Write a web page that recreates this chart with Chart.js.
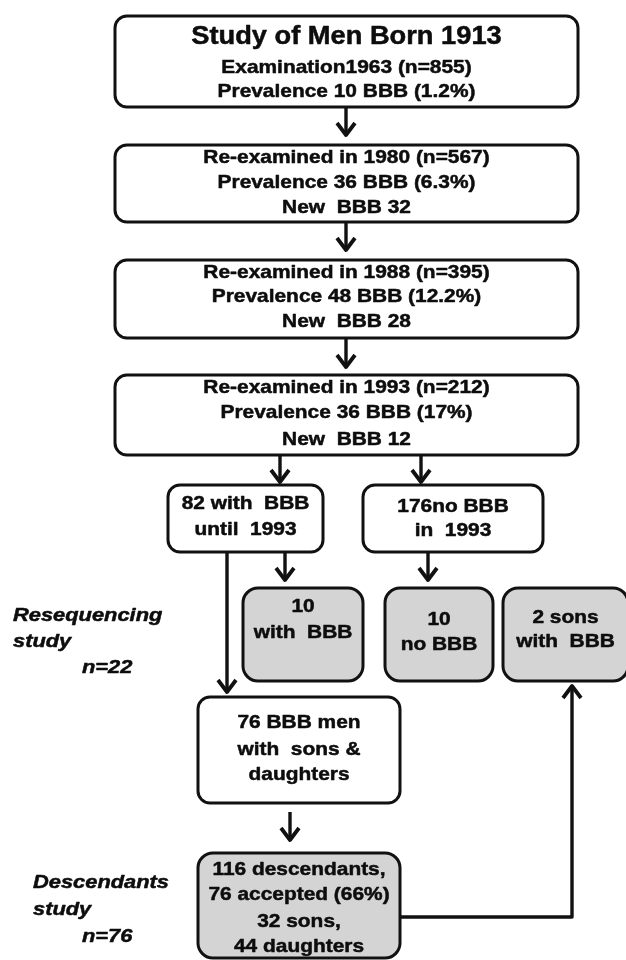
<!DOCTYPE html>
<html>
<head>
<meta charset="utf-8">
<script src="https://cdn.jsdelivr.net/npm/chart.js@4.4.0/dist/chart.umd.min.js"></script>
<style>
  html, body { margin: 0; padding: 0; background: #fff; }
  #wrap { width: 626px; height: 960px; }
</style>
</head>
<body>
<div id="wrap"><canvas id="flow" width="626" height="960"></canvas></div>
<script>
// text of each node, top to bottom
const nodeText = [
  ['Study of Men Born 1913', 'Examination1963 (n=855)', 'Prevalence 10 BBB (1.2%)'],
  ['Re-examined in 1980 (n=567)', 'Prevalence 36 BBB (6.3%)', 'New  BBB 32'],
  ['Re-examined in 1988 (n=395)', 'Prevalence 48 BBB (12.2%)', 'New  BBB 28'],
  ['Re-examined in 1993 (n=212)', 'Prevalence 36 BBB (17%)', 'New  BBB 12'],
  ['82 with  BBB', 'until  1993'],
  ['176no BBB', 'in  1993'],
  ['10', 'with  BBB'],
  ['10', 'no BBB'],
  ['2 sons', 'with  BBB'],
  ['76 BBB men', 'with  sons &', 'daughters'],
  ['116 descendants,', '76 accepted (66%)', '32 sons,', '44 daughters'],
];
const sideText = [
  ['Resequencing', 'study', 'n=22'],
  ['Descendants', 'study', 'n=76'],
];

// layout in scale units (x 0..626, y 0..960 top-down)
const boxes = [
  { x0: 115, y0: 16, x1: 578, y1: 107, lines: [37, 68, 92], grey: false },
  { x0: 115, y0: 145, x1: 578, y1: 222, lines: [158, 183, 208], grey: false },
  { x0: 115, y0: 260, x1: 578, y1: 338, lines: [273, 297, 322], grey: false },
  { x0: 115, y0: 375, x1: 578, y1: 455, lines: [388, 413, 440], grey: false },
  { x0: 168, y0: 485, x1: 323, y1: 552, lines: [504, 530], grey: false },
  { x0: 363, y0: 485, x1: 543, y1: 552, lines: [507, 531], grey: false },
  { x0: 243, y0: 588, x1: 363, y1: 681, lines: [607, 633], grey: true },
  { x0: 385, y0: 588, x1: 493, y1: 681, lines: [620, 645], grey: true },
  { x0: 503, y0: 588, x1: 628, y1: 681, lines: [618, 642], grey: true },
  { x0: 198, y0: 697, x1: 400, y1: 803, lines: [723, 750, 775], grey: false },
  { x0: 198, y0: 853, x1: 400, y1: 958, lines: [870, 895, 922, 947], grey: true },
];
const sides = [
  { x: [13, 13, 82], y: [616, 642, 668] },
  { x: [33, 33, 82], y: [883, 910, 937] },
];
// arrows as polylines, last point is the tip
const arrows = [
  [[346, 107], [346, 135]],
  [[346, 222], [346, 250]],
  [[346, 338], [346, 367]],
  [[280, 455], [280, 482]],
  [[421, 455], [421, 482]],
  [[285, 552], [285, 580]],
  [[428, 552], [428, 580]],
  [[227, 552], [227, 692]],
  [[290, 812], [290, 840]],
  [[400, 917], [572, 917], [572, 686]],
];

const FONT = '"Liberation Sans", Arial, sans-serif';

const flowPlugin = {
  id: 'flow',
  afterDatasetsDraw(chart) {
    const { ctx, scales: { x, y } } = chart;
    const px = (v) => x.getPixelForValue(v);
    const py = (v) => y.getPixelForValue(v);

    const text = (str, tx, ty, size, style, align, sx) => {
      ctx.save();
      ctx.font = `${style} ${size}px ${FONT}`;
      ctx.fillStyle = '#0d0d0d';
      ctx.strokeStyle = '#0d0d0d';
      ctx.lineWidth = 0.5;
      ctx.textAlign = align;
      ctx.textBaseline = 'middle';
      ctx.translate(tx, ty);
      ctx.scale(sx, 1);
      ctx.fillText(str, 0, 0);
      ctx.strokeText(str, 0, 0);
      ctx.restore();
    };

    ctx.save();
    ctx.lineJoin = 'round';
    ctx.lineCap = 'butt';

    boxes.forEach((b, i) => {
      const l = px(b.x0), t = py(b.y0), r = px(b.x1), btm = py(b.y1);
      const rad = b.grey ? 15 : 12;
      ctx.beginPath();
      ctx.roundRect(l, t, r - l, btm - t, rad);
      ctx.fillStyle = b.grey ? '#d4d4d4' : '#ffffff';
      ctx.fill();
      ctx.lineWidth = 3;
      ctx.strokeStyle = '#111';
      ctx.stroke();
      const cx = (l + r) / 2;
      nodeText[i].forEach((s, k) => {
        const title = i === 0 && k === 0;
        text(s, cx, py(b.lines[k]), title ? 25 : 19, 'bold', 'center', title ? 1.09 : 1.1);
      });
    });

    sides.forEach((s, i) => {
      sideText[i].forEach((str, k) => {
        text(str, px(s.x[k]), py(s.y[k]), 19, 'italic bold', 'left', 1.15);
      });
    });

    arrows.forEach((pts) => {
      ctx.beginPath();
      pts.forEach(([ax, ay], k) => {
        if (k === 0) ctx.moveTo(px(ax), py(ay));
        else ctx.lineTo(px(ax), py(ay));
      });
      ctx.lineWidth = 3.4;
      ctx.strokeStyle = '#111';
      ctx.stroke();
      const [tx, ty] = pts[pts.length - 1];
      const [fx, fy] = pts[pts.length - 2];
      const dir = Math.sign(py(ty) - py(fy));
      ctx.beginPath();
      ctx.moveTo(px(tx) - 9, py(ty) - dir * 12);
      ctx.lineTo(px(tx), py(ty));
      ctx.lineTo(px(tx) + 9, py(ty) - dir * 12);
      ctx.lineWidth = 3.8;
      ctx.stroke();
    });
    ctx.restore();
  },
};

new Chart(document.getElementById('flow').getContext('2d'), {
  type: 'scatter',
  data: {
    datasets: [{
      data: boxes.map((b) => ({ x: (b.x0 + b.x1) / 2, y: (b.y0 + b.y1) / 2 })),
      pointRadius: 0,
      showLine: false,
    }],
  },
  options: {
    responsive: false,
    animation: false,
    devicePixelRatio: 1,
    layout: { padding: 0 },
    plugins: { legend: { display: false }, tooltip: { enabled: false } },
    scales: {
      x: { type: 'linear', min: 0, max: 626, display: false },
      y: { type: 'linear', min: 0, max: 960, reverse: true, display: false },
    },
  },
  plugins: [flowPlugin],
});
</script>
</body>
</html>
